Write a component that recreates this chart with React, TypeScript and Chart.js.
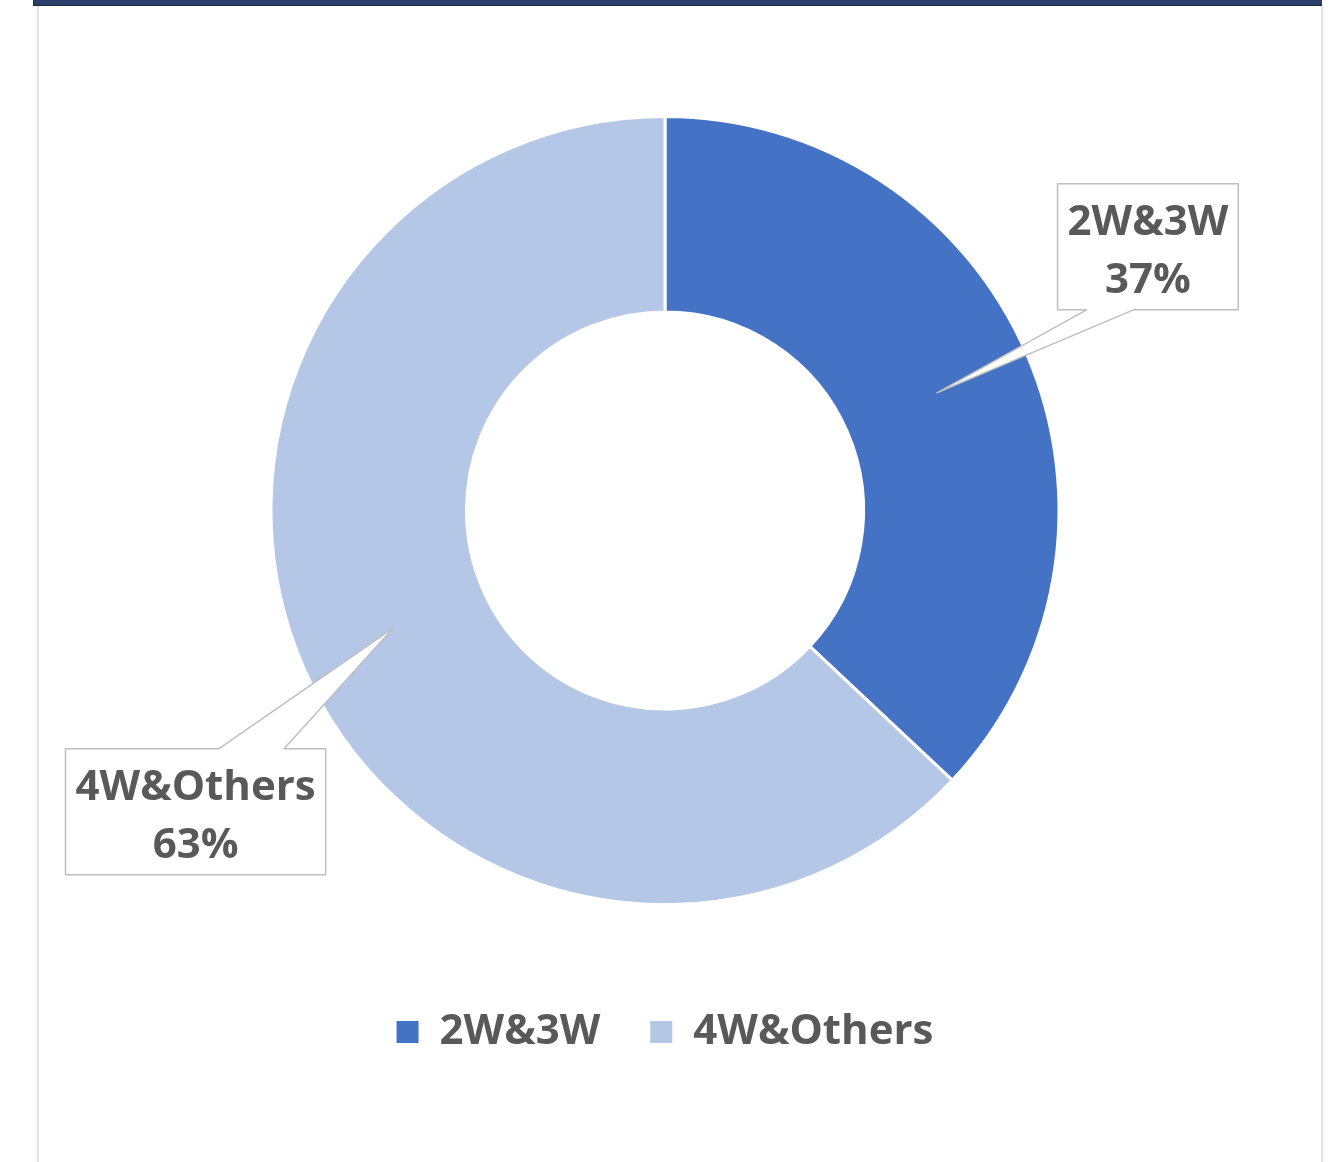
import React, { useEffect, useRef } from "react";
import { Chart, registerables } from "chart.js";

Chart.register(...registerables);

// ---- data ----
const categories = ["2W&3W", "4W&Others"];
const shareValues = [37, 63];
const sliceColors = ["#4472C4", "#B4C7E7"];

// ---- style ----
const FONT_FAMILY = '"Open Sans", "Noto Sans", sans-serif';
const TEXT_COLOR = "#595959";
const LABEL_FONT_SIZE = 42;

// callout placement relative to the slice centroid (style only)
const calloutStyle = [
  { dx: 211, dy: -146, side: "bottom", baseA: 0.16, baseB: 0.42 },
  { dx: -197.5, dy: 183.5, side: "top", baseA: 0.59, baseB: 0.84 },
];

const calloutPlugin = {
  id: "callouts",
  afterDatasetsDraw(chart: any) {
    const ctx = chart.ctx as CanvasRenderingContext2D;
    const meta = chart.getDatasetMeta(0);
    const data = chart.data.datasets[0].data as number[];
    const total = data.reduce((a: number, b: number) => a + b, 0);
    ctx.save();
    ctx.font = `bold ${LABEL_FONT_SIZE}px ${FONT_FAMILY}`;
    meta.data.forEach((arc: any, i: number) => {
      const tip = arc.tooltipPosition(false);
      const st = calloutStyle[i];
      const lines = [String(chart.data.labels[i]), Math.round((data[i] / total) * 100) + "%"];
      const textW = Math.max(...lines.map((l) => ctx.measureText(l).width));
      const w = textW + 20;
      const h = 126;
      const cx = tip.x + st.dx;
      const cy = tip.y + st.dy;
      const left = cx - w / 2;
      const right = cx + w / 2;
      const top = cy - h / 2;
      const bottom = cy + h / 2;
      const a = left + w * st.baseA;
      const b = left + w * st.baseB;
      ctx.beginPath();
      if (st.side === "bottom") {
        ctx.moveTo(left, top);
        ctx.lineTo(right, top);
        ctx.lineTo(right, bottom);
        ctx.lineTo(b, bottom);
        ctx.lineTo(tip.x, tip.y);
        ctx.lineTo(a, bottom);
        ctx.lineTo(left, bottom);
      } else {
        ctx.moveTo(left, top);
        ctx.lineTo(a, top);
        ctx.lineTo(tip.x, tip.y);
        ctx.lineTo(b, top);
        ctx.lineTo(right, top);
        ctx.lineTo(right, bottom);
        ctx.lineTo(left, bottom);
      }
      ctx.closePath();
      ctx.fillStyle = "#ffffff";
      ctx.fill();
      ctx.strokeStyle = "#BFBFBF";
      ctx.lineWidth = 1.5;
      ctx.lineJoin = "round";
      ctx.stroke();
      ctx.fillStyle = TEXT_COLOR;
      ctx.textAlign = "center";
      ctx.textBaseline = "middle";
      ctx.fillText(lines[0], cx, top + 39);
      ctx.fillText(lines[1], cx, top + 97);
    });
    ctx.restore();
  },
};

export default function App() {
  const canvasRef = useRef<HTMLCanvasElement | null>(null);

  useEffect(() => {
    if (!canvasRef.current) return;
    const defaultGen = (Chart as any).overrides.doughnut.plugins.legend.labels.generateLabels;
    const chart = new Chart(canvasRef.current, {
      type: "doughnut",
      data: {
        labels: categories,
        datasets: [
          {
            data: shareValues,
            backgroundColor: sliceColors,
            borderColor: "#ffffff",
            borderWidth: 3,
          },
        ],
      },
      options: {
        responsive: false,
        animation: false,
        radius: 394,
        cutout: "50.4%",
        layout: { padding: { left: 0, right: 13, top: 60, bottom: 99 } },
        plugins: {
          tooltip: { enabled: false },
          legend: {
            position: "bottom",
            labels: {
              boxWidth: 22,
              boxHeight: 22,
              padding: 50,
              color: TEXT_COLOR,
              font: { family: FONT_FAMILY, size: LABEL_FONT_SIZE, weight: "bold" },
              generateLabels: (c: any) =>
                defaultGen(c).map((l: any) => ({ ...l, lineWidth: 0, strokeStyle: "rgba(0,0,0,0)" })),
            },
          },
        },
      } as any,
      plugins: [calloutPlugin],
    });
    return () => chart.destroy();
  }, []);

  return (
    <div style={{ position: "absolute", left: 0, top: 0, width: 1343, height: 1162, background: "#fff", overflow: "hidden" }}>
      <div style={{ position: "absolute", left: 33, top: 0, width: 1288, height: 5, background: "#2B3F6B", borderBottom: "1px solid #1B2A4C", borderLeft: "1px solid #1B2A4C" }} />
      <div style={{ position: "absolute", left: 37, top: 6, width: 2, height: 1156, background: "#E2E2E2" }} />
      <div style={{ position: "absolute", left: 1321, top: 6, width: 2, height: 1156, background: "#E2E2E2" }} />
      <canvas ref={canvasRef} width={1343} height={1162} style={{ position: "absolute", left: 0, top: 0 }} />
    </div>
  );
}
